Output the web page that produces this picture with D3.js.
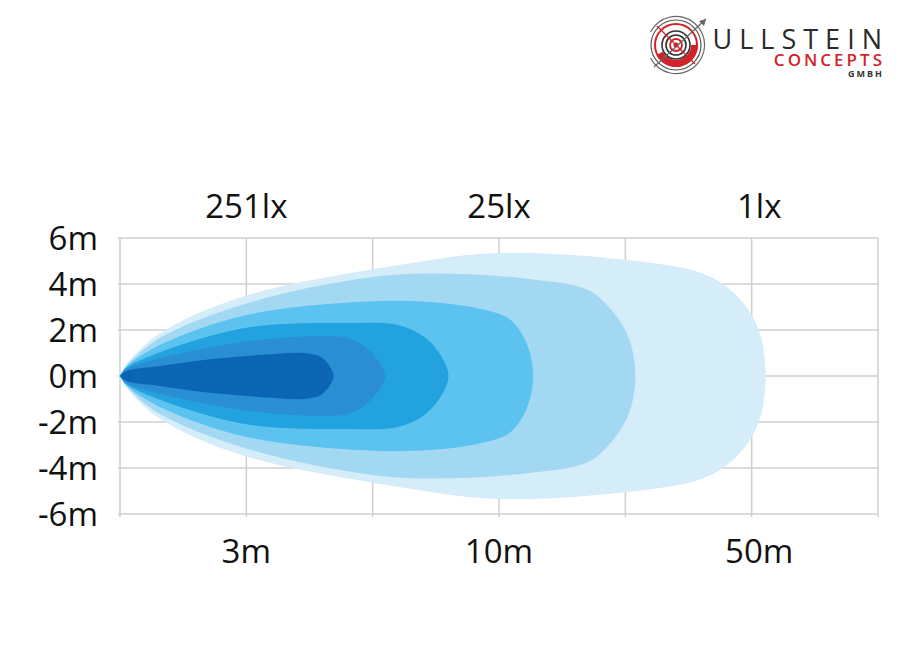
<!DOCTYPE html>
<html lang="en">
<meta charset="utf-8">
<style>
  body { margin: 0; background: #fff; }
  svg text { font-family: 'Open Sans', sans-serif; fill: #111; }
</style>
<script src="https://cdn.jsdelivr.net/npm/d3@7"></script>
<body>
<div id="chart"></div>
<script>
// grid is 6 columns x 12 m; x is measured in grid columns
var xTicks = [0, 1, 2, 3, 4, 5, 6];
var yTicks = [6, 4, 2, 0, -2, -4, -6];
var distLabels = ['3m', '10m', '50m'];
var distPos = [1, 3, 5.06];
var luxLabels = ['251lx', '25lx', '1lx'];
var luxPos = [1, 3, 5.06];

// upper edge of each zone: [column, half width in m], mirrored below
var zone1 = [[0,0],[0.05,0.22],[0.3,0.42],[0.7,0.72],[1.2,0.95],[1.45,1.0],[1.6,0.78],[1.69,0]];
var zone2 = [[0,0],[0.05,0.3],[0.3,0.75],[1.0,1.5],[1.6,1.74],[1.8,1.65],[1.93,1.3],[2.04,0.7],[2.1,0]];
var zone3 = [[0,0],[0.05,0.35],[0.3,1.0],[1.0,2.1],[1.8,2.3],[2.2,2.22],[2.42,1.65],[2.56,0.7],[2.6,0]];
var zone4 = [[0,0],[0.05,0.4],[0.3,1.3],[1.0,2.65],[2.0,3.25],[2.5,3.2],[2.87,2.9],[3.09,2.45],[3.22,1.4],[3.27,0]];
var zone5 = [[0,0],[0.05,0.45],[0.3,1.6],[1.0,3.15],[2.0,4.3],[2.6,4.45],[3.27,4.2],[3.7,3.75],[3.9,2.8],[4.03,1.6],[4.08,0]];
var zone6 = [[0,0],[0.05,0.5],[0.32,1.87],[0.97,3.45],[2.3,4.9],[3.0,5.35],[4.0,5.05],[4.59,4.5],[4.81,3.85],[4.99,2.75],[5.08,1.55],[5.11,0]];
var zones = [zone6, zone5, zone4, zone3, zone2, zone1];
var zoneColors = ['#d5ecf9', '#a3d8f3', '#5cc3f0', '#22a2df', '#2a8ed2', '#0a66b2'];

var W = 900, H = 660;
var svg = d3.select('#chart').append('svg')
  .attr('width', W)
  .attr('height', H);

var x = d3.scaleLinear().domain([0, 6]).range([120, 878]);
var y = d3.scaleLinear().domain([-6, 6]).range([514, 238]);

// grid
svg.append('g').selectAll('line')
  .data(yTicks)
  .enter().append('line')
    .attr('x1', x(0) - 2).attr('x2', x(6))
    .attr('y1', d => y(d)).attr('y2', d => y(d))
    .attr('stroke', '#cfcfcf').attr('stroke-width', 1.5);

svg.append('g').selectAll('line')
  .data(xTicks)
  .enter().append('line')
    .attr('x1', d => x(d)).attr('x2', d => x(d))
    .attr('y1', y(6)).attr('y2', y(-6) + 3)
    .attr('stroke', '#cfcfcf').attr('stroke-width', 1.5);

// beam zones
var line = d3.line()
  .x(d => x(d[0]))
  .y(d => y(d[1]))
  .curve(d3.curveCatmullRom.alpha(0.5));

function outline(z) {
  var lower = z.slice(0, -1).reverse().map(p => [p[0], -p[1]]);
  return z.concat(lower);
}

svg.append('g').selectAll('path')
  .data(zones)
  .enter().append('path')
    .attr('d', d => line(outline(d)) + 'Z')
    .attr('fill', (d, i) => zoneColors[i]);

// labels
svg.append('g').selectAll('text')
  .data(yTicks)
  .enter().append('text')
    .attr('x', 98)
    .attr('y', d => y(d) + 12)
    .attr('text-anchor', 'end')
    .style('font-size', '33px')
    .text(d => d + 'm');

svg.append('g').selectAll('text')
  .data(distLabels)
  .enter().append('text')
    .attr('x', (d, i) => x(distPos[i]))
    .attr('y', 563)
    .attr('text-anchor', 'middle')
    .style('font-size', '33px')
    .text(d => d);

svg.append('g').selectAll('text')
  .data(luxLabels)
  .enter().append('text')
    .attr('x', (d, i) => x(luxPos[i]))
    .attr('y', 218)
    .attr('text-anchor', 'middle')
    .style('font-size', '33px')
    .text(d => d);

// logo
var logo = svg.append('g').attr('transform', 'translate(676,45)');
logo.append('path')
  .attr('d', d3.arc()({innerRadius: 28, outerRadius: 29.2, startAngle: -0.35 * Math.PI, endAngle: 1.35 * Math.PI}))
  .attr('fill', '#666');
logo.append('circle').attr('r', 25).attr('fill', 'none').attr('stroke', '#555').attr('stroke-width', 1.2);
logo.append('circle').attr('r', 21).attr('fill', 'none').attr('stroke', '#d2232a').attr('stroke-width', 2);
logo.append('path')
  .attr('d', d3.arc()({innerRadius: 15, outerRadius: 22, startAngle: Math.PI * 0.5, endAngle: Math.PI * 1.35}))
  .attr('fill', '#d2232a');
[14, 10].forEach(r => logo.append('circle').attr('r', r)
  .attr('fill', 'none').attr('stroke', '#333').attr('stroke-width', 1.6));
logo.append('circle').attr('r', 6).attr('fill', 'none').attr('stroke', '#d2232a').attr('stroke-width', 1.8);
logo.append('circle').attr('r', 2.5).attr('fill', '#d2232a');
logo.append('line').attr('x1', -22).attr('y1', 22).attr('x2', 30).attr('y2', -26)
  .attr('stroke', '#666').attr('stroke-width', 1.2);
logo.append('path').attr('d', 'M30,-26 L23,-24 L28,-19 Z').attr('fill', '#666');
logo.append('line').attr('x1', -19).attr('y1', -19).attr('x2', 19).attr('y2', 19)
  .attr('stroke', '#d2232a').attr('stroke-width', 1.2);

svg.append('text').attr('x', 889).attr('y', 49).attr('text-anchor', 'end')
  .style('font-size', '27px').style('letter-spacing', '7px').style('fill', '#2b2b2b')
  .text('ULLSTEIN');
svg.append('text').attr('x', 885).attr('y', 66).attr('text-anchor', 'end')
  .style('font-size', '17px').style('letter-spacing', '3px').style('fill', '#d2232a').style('font-weight', '600')
  .text('CONCEPTS');
svg.append('text').attr('x', 884).attr('y', 77).attr('text-anchor', 'end')
  .style('font-size', '9px').style('letter-spacing', '2px').style('fill', '#333').style('font-weight', 'bold')
  .text('GMBH');
</script>
</body>
</html>
